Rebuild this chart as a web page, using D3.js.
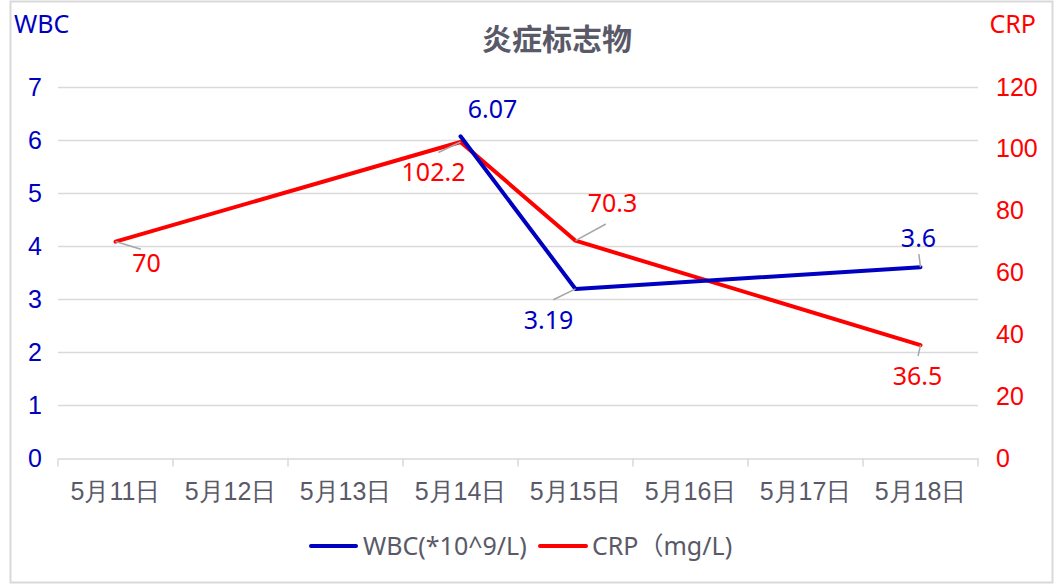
<!DOCTYPE html>
<html>
<head>
<meta charset="utf-8">
<script src="https://cdn.jsdelivr.net/npm/d3@7"></script>
<style>
  html, body { margin: 0; padding: 0; background: #fff; }
  svg { display: block; font-family: "Noto Sans", "Noto Sans CJK SC", sans-serif; }
</style>
</head>
<body>
<svg id="chart" width="1058" height="585"></svg>
<script>
const title = "炎症标志物";
const categories = ["5月11日","5月12日","5月13日","5月14日","5月15日","5月16日","5月17日","5月18日"];
const wbcValues = [null, null, null, 6.07, 3.19, null, null, 3.6];
const crpValues = [70, null, null, 102.2, 70.3, null, null, 36.5];
const wbcTicks = [0,1,2,3,4,5,6,7];
const crpTicks = [0,20,40,60,80,100,120];
const wbcName = "WBC(*10^9/L)";
const crpName = "CRP\uFF08mg/L)";

const BLUE = "#0000c0", RED = "#ff0000", GRAY = "#595968", GRID = "#d9d9d9", LEADER = "#a6a6a6";
const FS = 25;

const svg = d3.select("#chart");
const W = 1058, H = 585;
const m = {left: 58, right: 80, top: 87, bottom: 127};

svg.append("rect").attr("x", 10.5).attr("y", 1.5).attr("width", 1042).attr("height", 581)
  .attr("fill", "#fff").attr("stroke", GRID).attr("stroke-width", 2);

const x = d3.scaleBand().domain(categories).range([m.left, W - m.right]);
const yL = d3.scaleLinear().domain([0, 7]).range([H - m.bottom, m.top]);
const yR = d3.scaleLinear().domain([0, 120]).range([H - m.bottom, m.top]);

// gridlines
svg.append("g").selectAll("line").data(wbcTicks.slice(1)).join("line")
  .attr("x1", m.left).attr("x2", W - m.right)
  .attr("y1", d => Math.round(yL(d)) + 0.5).attr("y2", d => Math.round(yL(d)) + 0.5)
  .attr("stroke", GRID).attr("stroke-width", 1.5);

// x axis
const xAxis = svg.append("g").attr("transform", `translate(0,${Math.round(yL(0)) + 0.5})`)
  .call(d3.axisBottom(x).tickSize(0).tickPadding(24));
xAxis.select(".domain").attr("stroke", GRID).attr("stroke-width", 1.5);
xAxis.selectAll("text").attr("fill", GRAY).attr("font-size", FS);
const bounds = categories.map(c => x(c)).concat([x(categories[categories.length-1]) + x.bandwidth()]);
xAxis.append("g").selectAll("line").data(bounds).join("line")
  .attr("x1", d => d).attr("x2", d => d).attr("y1", 0).attr("y2", 8)
  .attr("stroke", GRID).attr("stroke-width", 1.5);

// left axis
const la = svg.append("g").attr("transform", `translate(42,0)`)
  .call(d3.axisLeft(yL).tickValues(wbcTicks).tickSize(0).tickPadding(0).tickFormat(d3.format("d")));
la.select(".domain").remove();
la.selectAll("text").attr("fill", BLUE).attr("font-size", FS);

// right axis
const ra = svg.append("g").attr("transform", `translate(996,0)`)
  .call(d3.axisRight(yR).tickValues(crpTicks).tickSize(0).tickPadding(0).tickFormat(d3.format("d")));
ra.select(".domain").remove();
ra.selectAll("text").attr("fill", RED).attr("font-size", FS);

// axis titles
svg.append("text").attr("x", 14).attr("y", 33).attr("fill", BLUE).attr("font-size", FS).text("WBC");
svg.append("text").attr("x", 1036).attr("y", 33).attr("text-anchor", "end").attr("fill", RED).attr("font-size", FS).text("CRP");

// title
svg.append("text").attr("x", 557).attr("y", 50).attr("text-anchor", "middle")
  .attr("fill", GRAY).attr("font-size", 30).attr("font-weight", "bold")
  .attr("font-family", "'Noto Sans CJK SC', sans-serif").text(title);

const cx = c => x(c) + x.bandwidth() / 2;

function series(values, yScale, color) {
  const pts = categories.map((c, i) => ({c, v: values[i], i})).filter(d => d.v != null);
  const line = d3.line().x(d => cx(d.c)).y(d => yScale(d.v));
  svg.append("path").datum(pts).attr("d", line).attr("fill", "none")
    .attr("stroke", color).attr("stroke-width", 4).attr("stroke-linejoin", "round").attr("stroke-linecap", "round");
  return pts;
}
const crpPts = series(crpValues, yR, RED);
const wbcPts = series(wbcValues, yL, BLUE);

// data labels: offsets of label centre from point
const crpLabelOff = {0: [31, 22], 3: [-27, 30], 4: [37, -37], 7: [-3, 31]};
const wbcLabelOff = {3: [32, -27], 4: [-27, 31], 7: [-2, -29]};

function labels(pts, yScale, offs, color) {
  pts.forEach(d => {
    const px = cx(d.c), py = yScale(d.v);
    const [dx, dy] = offs[d.i];
    const lx = px + dx, ly = py + dy;
    const ex = px + dx * 0.82, ey = py + dy * (dy > 0 ? 0.35 : 0.45);
    if (!(d.i === 3 && color === BLUE)) {
      svg.append("line").attr("x1", px).attr("y1", py).attr("x2", ex).attr("y2", ey)
        .attr("stroke", LEADER).attr("stroke-width", 1.5);
    }
    svg.append("text").attr("x", lx).attr("y", ly).attr("dy", "0.35em")
      .attr("text-anchor", "middle").attr("fill", color).attr("font-size", FS)
      .text(d.v);
  });
}
labels(crpPts, yR, crpLabelOff, RED);
labels(wbcPts, yL, wbcLabelOff, BLUE);

// legend
const lg = svg.append("g").attr("transform", "translate(311,546)");
lg.append("line").attr("x1", 0).attr("x2", 45).attr("stroke", BLUE).attr("stroke-width", 4).attr("stroke-linecap", "round");
lg.append("text").attr("x", 52).attr("dy", "0.35em").attr("fill", GRAY).attr("font-size", FS).text(wbcName);
lg.append("line").attr("x1", 229).attr("x2", 275).attr("stroke", RED).attr("stroke-width", 4).attr("stroke-linecap", "round");
lg.append("text").attr("x", 281).attr("dy", "0.35em").attr("fill", GRAY).attr("font-size", FS).text(crpName);
</script>
</body>
</html>
